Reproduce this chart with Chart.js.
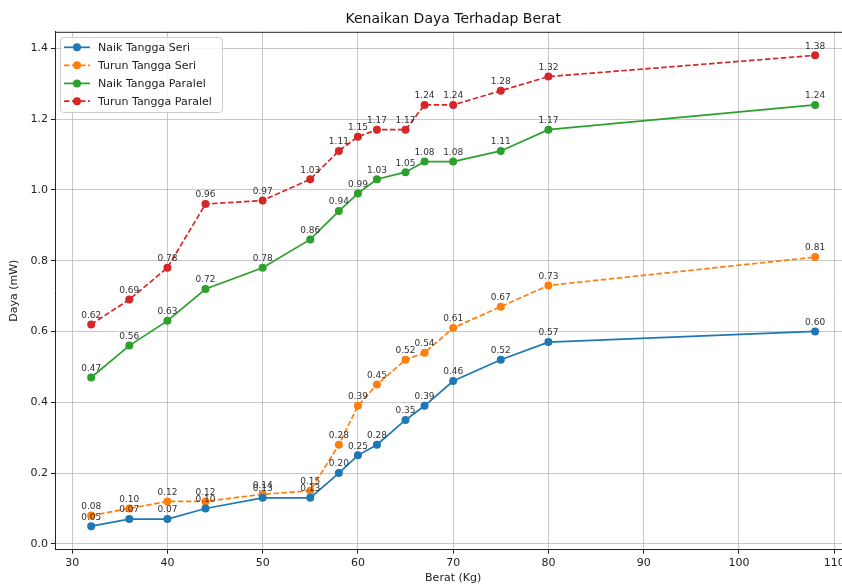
<!DOCTYPE html>
<html><head><meta charset="utf-8">
<script src="https://cdn.jsdelivr.net/npm/chart.js@4/dist/chart.umd.min.js"></script>
<style>
html,body{margin:0;padding:0;background:#fff;overflow:hidden;width:842px;height:586px}
#wrap{position:absolute;left:0;top:0;width:858px;height:586px}
</style></head>
<body><div id="wrap"><canvas id="c" width="858" height="586"></canvas></div>
<script>
const berat = [32,36,40,44,50,55,58,60,62,65,67,70,75,80,108];
const naikSeri = [0.05,0.07,0.07,0.10,0.13,0.13,0.20,0.25,0.28,0.35,0.39,0.46,0.52,0.57,0.60];
const turunSeri = [0.08,0.10,0.12,0.12,0.14,0.15,0.28,0.39,0.45,0.52,0.54,0.61,0.67,0.73,0.81];
const naikParalel = [0.47,0.56,0.63,0.72,0.78,0.86,0.94,0.99,1.03,1.05,1.08,1.08,1.11,1.17,1.24];
const turunParalel = [0.62,0.69,0.78,0.96,0.97,1.03,1.11,1.15,1.17,1.17,1.24,1.24,1.28,1.32,1.38];
const seriesNames = ['Naik Tangga Seri','Turun Tangga Seri','Naik Tangga Paralel','Turun Tangga Paralel'];
const xTicks = [30,40,50,60,70,80,90,100,110];
const yTicks = [0.0,0.2,0.4,0.6,0.8,1.0,1.2,1.4];
const titleText = 'Kenaikan Daya Terhadap Berat';
const xTitle = 'Berat (Kg)';
const yTitle = 'Daya (mW)';

const colors = ['#1f77b4','#ff7f0e','#2ca02c','#d62728'];
const dashes = [[],[5.5,2.5],[],[5.5,2.5]];
const seriesVals = [naikSeri, turunSeri, naikParalel, turunParalel];
const FONT = "'DejaVu Sans', sans-serif";

const datasets = seriesVals.map((vals,i)=>({
  label: seriesNames[i],
  data: berat.map((x,j)=>({x:x,y:vals[j]})),
  borderColor: colors[i],
  backgroundColor: colors[i],
  borderWidth: 1.7,
  borderDash: dashes[i],
  pointRadius: 4,
  pointHoverRadius: 4,
  pointBorderWidth: 0,
  pointBackgroundColor: colors[i],
  tension: 0,
  fill: false
}));

const labelPlugin = {
  id: 'valLabels',
  afterDatasetsDraw(chart){
    const ctx = chart.ctx;
    ctx.save();
    ctx.font = "9px " + FONT;
    ctx.fillStyle = '#333';
    ctx.textAlign = 'center';
    ctx.textBaseline = 'bottom';
    chart.data.datasets.forEach((ds,i)=>{
      const meta = chart.getDatasetMeta(i);
      meta.data.forEach((pt,j)=>{
        ctx.fillText(ds.data[j].y.toFixed(2), pt.x, pt.y - 4.5);
      });
    });
    ctx.restore();
  }
};

const framePlugin = {
  id: 'frame',
  afterDraw(chart){
    const a = chart.chartArea, ctx = chart.ctx;
    ctx.save();
    // title centred over the axes
    ctx.font = "14px " + FONT;
    ctx.fillStyle = '#111';
    ctx.textAlign = 'center';
    ctx.textBaseline = 'middle';
    ctx.fillText(titleText, (a.left + a.right) / 2, 19);
    ctx.strokeStyle = '#222';
    ctx.lineWidth = 1;
    ctx.beginPath();
    ctx.moveTo(a.left, a.top + 0.5);
    ctx.lineTo(a.right, a.top + 0.5);
    ctx.moveTo(a.right - 0.5, a.top);
    ctx.lineTo(a.right - 0.5, a.bottom);
    ctx.stroke();
    // legend
    const bx = 60.5, by = 37.5, bw = 162, bh = 75;
    ctx.fillStyle = 'rgba(255,255,255,0.85)';
    ctx.strokeStyle = '#cccccc';
    ctx.beginPath();
    ctx.roundRect(bx, by, bw, bh, 3);
    ctx.fill();
    ctx.stroke();
    const rows = [47.3, 65.3, 83.4, 101.2];
    ctx.font = "11px " + FONT;
    ctx.textBaseline = 'middle';
    ctx.textAlign = 'left';
    chart.data.datasets.forEach((ds,i)=>{
      const y = rows[i];
      ctx.strokeStyle = ds.borderColor;
      ctx.lineWidth = 1.7;
      ctx.setLineDash(ds.borderDash);
      ctx.beginPath();
      ctx.moveTo(64, y);
      ctx.lineTo(90, y);
      ctx.stroke();
      ctx.setLineDash([]);
      ctx.fillStyle = ds.backgroundColor;
      ctx.beginPath();
      ctx.arc(77, y, 4, 0, Math.PI*2);
      ctx.fill();
      ctx.fillStyle = '#222';
      ctx.fillText(ds.label, 98, y + 0.5);
    });
    ctx.restore();
  }
};

new Chart(document.getElementById('c'), {
  type: 'line',
  data: { datasets },
  options: {
    responsive: false,
    animation: false,
    layout: { padding: { left: 0, right: 6.7, top: 31.8, bottom: 0 } },
    plugins: {
      legend: { display: false },
      tooltip: { enabled: false },
      title: { display: false }
    },
    scales: {
      x: {
        type: 'linear',
        min: 28.2, max: 111.8,
        afterBuildTicks(s){ s.ticks = xTicks.map(v=>({value:v})); },
        afterFit(s){ s.height = 36.3; },
        ticks: { color: '#222', font: { family: FONT, size: 11 }, padding: 2.5, maxRotation: 0,
                 callback: v => String(v) },
        grid: { color: 'rgba(176,176,176,0.7)', lineWidth: 1, tickLength: 4, tickColor: '#222' },
        border: { color: '#222', width: 1 },
        title: { display: true, text: xTitle, color: '#222', font: { family: FONT, size: 11 },
                 padding: { top: 0, bottom: 1.4 } }
      },
      y: {
        type: 'linear',
        min: -0.0165, max: 1.4465,
        afterBuildTicks(s){ s.ticks = yTicks.map(v=>({value:v})); },
        afterFit(s){ s.width = 55; },
        ticks: { color: '#222', font: { family: FONT, size: 11 }, padding: 3,
                 callback: v => Number(v).toFixed(1) },
        grid: { color: 'rgba(176,176,176,0.7)', lineWidth: 1, tickLength: 4, tickColor: '#222' },
        border: { color: '#222', width: 1 },
        title: { display: true, text: yTitle, color: '#222', font: { family: FONT, size: 11 },
                 padding: { top: 7.4, bottom: 0 } }
      }
    }
  },
  plugins: [labelPlugin, framePlugin]
});
</script>
</body></html>
